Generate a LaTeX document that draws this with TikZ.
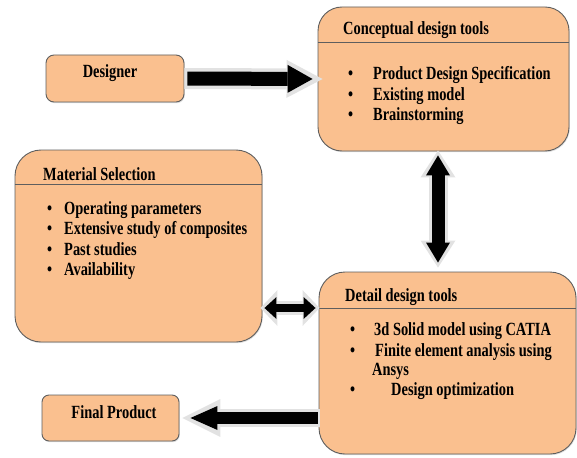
\documentclass[tikz,border=0pt]{standalone}
\usepackage{fontspec}
\setmainfont{Liberation Serif}[FakeStretch=0.775]
\usetikzlibrary{arrows.meta,shadows}
\definecolor{peach}{HTML}{FAC08F}
\definecolor{boxedge}{HTML}{5E5E5E}
\definecolor{arrowrim}{HTML}{E2E2E2}

\begin{document}
\begin{tikzpicture}[x=1pt,y=-1pt,
  roundbox/.style={draw=boxedge, fill=peach, line width=0.9pt, inner sep=0pt,
    drop shadow={shadow xshift=0.8pt, shadow yshift=-1.2pt, opacity=0.25}},
  words/.style={font=\fontsize{18.6}{21}\selectfont\bfseries, inner sep=0pt},
  rim/.style={draw=arrowrim, line width=#1},
  core/.style={draw=black, line width=#1}]
\useasboundingbox (0,0) rectangle (577,457);

% boxes
\node[roundbox, rounded corners=8pt, minimum width=138pt, minimum height=47pt] (designer) at (115,78.5) {};
\node[roundbox, rounded corners=24pt, minimum width=251pt, minimum height=144pt] (concept) at (443.5,79) {};
\node[roundbox, rounded corners=26pt, minimum width=247pt, minimum height=192pt] (material) at (138.5,246) {};
\node[roundbox, rounded corners=26pt, minimum width=257pt, minimum height=182pt] (detail) at (447.5,363) {};
\node[roundbox, rounded corners=7pt, minimum width=137pt, minimum height=46pt] (final) at (110.5,418) {};

% header lines
\coordinate (chead) at (concept.west |- 0,42);
\coordinate (mhead) at (material.west |- 0,184);
\coordinate (dhead) at (detail.west |- 0,308);
\draw[boxedge, line width=0.9pt] (chead) -- (concept.east |- chead);
\draw[boxedge, line width=0.9pt] (mhead) -- (material.east |- mhead);
\draw[boxedge, line width=0.9pt] (dhead) -- (detail.east |- dhead);

% texts
\node[words, anchor=base] (designertxt) at (110,78) {Designer};
\node[words, anchor=base] (finaltxt) at (114,418) {Final Product};

\node[words, anchor=base west] (ctitle) at (343,35) {Conceptual design tools};
\node[words, anchor=base west] (c1) at (348,80) {\makebox[25pt][l]{\textbullet}Product Design Specification};
\node[words, anchor=base west] (c2) at (348,101) {\makebox[25pt][l]{\textbullet}Existing model};
\node[words, anchor=base west] (c3) at (348,121) {\makebox[25pt][l]{\textbullet}Brainstorming};

\node[words, anchor=base west] (mtitle) at (43,180) {Material Selection};
\node[words, anchor=base west] (m1) at (47,214) {\makebox[17pt][l]{\textbullet}Operating parameters};
\node[words, anchor=base west] (m2) at (47,234.5) {\makebox[17pt][l]{\textbullet}Extensive study of composites};
\node[words, anchor=base west] (m3) at (47,255) {\makebox[17pt][l]{\textbullet}Past studies};
\node[words, anchor=base west] (m4) at (47,275.5) {\makebox[17pt][l]{\textbullet}Availability};

\node[words, anchor=base west] (dtitle) at (345,301) {Detail design tools};
\node[words, anchor=base west] (d1) at (350,335) {\makebox[24pt][l]{\textbullet}3d Solid model using CATIA};
\node[words, anchor=base west] (d2) at (350,356) {\makebox[25pt][l]{\textbullet}Finite element analysis using};
\node[words, anchor=base west] (d2b) at (372,375) {Ansys};
\node[words, anchor=base west] (d3) at (350,395) {\makebox[41pt][l]{\textbullet}Design optimization};

% Designer -> Conceptual
\draw[rim=21pt, -{Triangle[length=36pt,width=38pt,line width=0pt]}, shorten >=-5pt] (designer.east) -- (concept.west);
\draw[core=14pt, -{Triangle[length=25pt,width=28pt,line width=0pt]}, shorten >=5pt, shorten <=3pt] (designer.east) -- (concept.west);

% Conceptual <-> Detail
\draw[rim=19pt, {Triangle[length=27pt,width=35pt,line width=0pt]}-{Triangle[length=27pt,width=35pt,line width=0pt]}, shorten <=-1pt, shorten >=4pt] ([xshift=-5.5pt]concept.south) -- ([xshift=-5.5pt]concept.south |- detail.north);
\draw[core=13pt, {Triangle[length=20pt,width=24pt,line width=0pt]}-{Triangle[length=20pt,width=24pt,line width=0pt]}, shorten <=4pt, shorten >=9pt] ([xshift=-5.5pt]concept.south) -- ([xshift=-5.5pt]concept.south |- detail.north);

% Material <-> Detail
\draw[rim=14pt, {Triangle[length=17pt,width=36pt,line width=0pt]}-{Triangle[length=17pt,width=36pt,line width=0pt]}, shorten <=-2pt, shorten >=-1pt] (material.east |- dhead) -- (dhead);
\draw[core=8pt, {Triangle[length=12pt,width=22pt,line width=0pt]}-{Triangle[length=12pt,width=22pt,line width=0pt]}, shorten <=2pt, shorten >=3pt] (material.east |- dhead) -- (dhead);

% Detail -> Final Product
\draw[rim=18pt, -{Triangle[length=38pt,width=38pt,line width=0pt]}, shorten <=-1pt, shorten >=3pt] (detail.west |- final.east) -- (final.east);
\draw[core=12pt, -{Triangle[length=27pt,width=24pt,line width=0pt]}, shorten <=1pt, shorten >=11pt] (detail.west |- final.east) -- (final.east);
\end{tikzpicture}
\end{document}
